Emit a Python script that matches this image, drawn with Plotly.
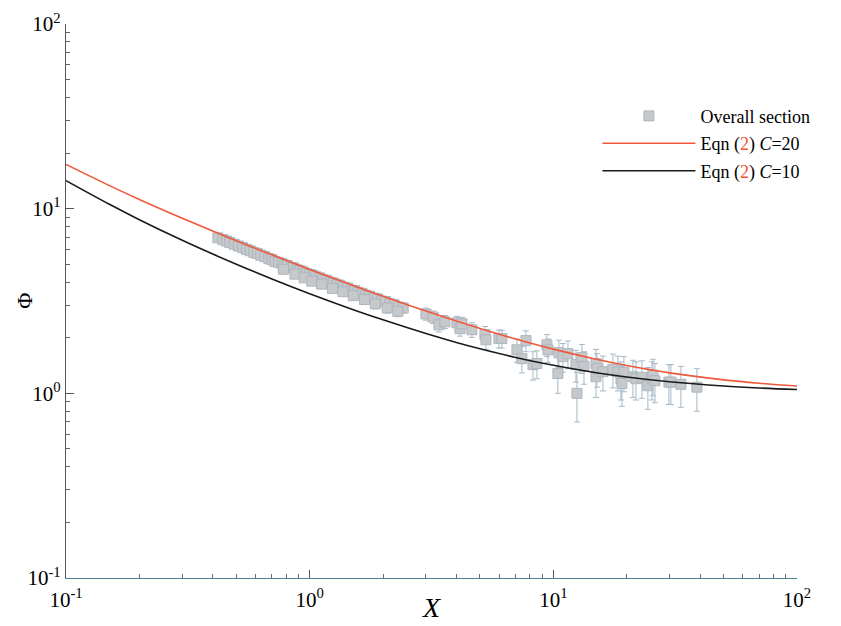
import plotly.graph_objects as go

# ---- measured data (Overall section) ----
x_data = [0.42, 0.44, 0.455, 0.47, 0.49, 0.51, 0.53, 0.55, 0.57, 0.59,
          0.61, 0.63, 0.655, 0.68, 0.70, 0.72, 0.745, 0.77, 0.79, 0.81,
          0.84, 0.86, 0.89, 0.91, 0.94, 0.97, 1.0, 1.03, 1.06, 1.10,
          1.13, 1.17, 1.21, 1.25, 1.29, 1.33, 1.38, 1.43, 1.48, 1.53,
          1.58, 1.64, 1.70, 1.76, 1.83, 1.90, 1.97, 2.05, 2.13, 2.22,
          2.32, 2.42,
          0.78, 0.87, 0.95, 1.02, 1.12, 1.24, 1.37, 1.51, 1.68, 1.86,
          2.08, 2.30,
          3.00, 3.21, 3.39, 3.59, 4.02, 4.14, 4.22, 4.63, 5.24, 5.29,
          5.98, 6.15, 7.09, 7.43, 7.72, 8.25, 8.56, 9.41, 9.51, 10.44,
          10.54, 10.95, 11.48, 12.38, 12.50, 13.10, 13.36, 14.96, 14.96, 15.10,
          15.98, 17.56, 18.41, 18.94, 19.12, 19.49, 21.22, 21.83, 23.10, 24.44,
          25.39, 25.63, 26.12, 29.81, 30.37, 33.39, 38.84]
phi_data = [6.95, 6.80, 6.68, 6.55, 6.42, 6.28, 6.16, 6.02, 5.92, 5.80,
            5.72, 5.60, 5.50, 5.36, 5.30, 5.18, 5.12, 5.04, 4.95, 4.92,
            4.80, 4.78, 4.66, 4.62, 4.55, 4.45, 4.40, 4.36, 4.28, 4.22,
            4.12, 4.10, 4.00, 3.96, 3.88, 3.85, 3.76, 3.72, 3.62, 3.60,
            3.52, 3.48, 3.40, 3.36, 3.28, 3.25, 3.16, 3.14, 3.05, 3.02,
            2.93, 2.90,
            4.70, 4.42, 4.22, 4.05, 3.90, 3.70, 3.55, 3.38, 3.22, 3.05,
            2.90, 2.78,
            2.69, 2.59, 2.35, 2.44, 2.41, 2.24, 2.38, 2.21, 2.08, 1.95,
            1.98, 1.98, 1.72, 1.54, 1.93, 1.43, 1.45, 1.83, 1.72, 1.28,
            1.66, 1.58, 1.64, 1.43, 1.00, 1.56, 1.40, 1.45, 1.23, 1.36,
            1.31, 1.35, 1.31, 1.20, 1.13, 1.30, 1.23, 1.20, 1.22, 1.10,
            1.20, 1.25, 1.17, 1.15, 1.15, 1.12, 1.08]
err_data = [0.12, 0.12, 0.12, 0.12, 0.12, 0.12, 0.12, 0.12, 0.12, 0.12,
            0.12, 0.12, 0.12, 0.12, 0.12, 0.12, 0.13, 0.13, 0.13, 0.13,
            0.13, 0.13, 0.13, 0.13, 0.14, 0.14, 0.14, 0.14, 0.14, 0.14,
            0.15, 0.15, 0.15, 0.15, 0.15, 0.15, 0.15, 0.15, 0.16, 0.16,
            0.16, 0.16, 0.16, 0.16, 0.17, 0.17, 0.17, 0.17, 0.17, 0.18,
            0.18, 0.18,
            0.15, 0.15, 0.15, 0.16, 0.16, 0.16, 0.17, 0.17, 0.17, 0.18,
            0.18, 0.18,
            0.20, 0.20, 0.20, 0.20, 0.20, 0.20, 0.20, 0.20, 0.22, 0.22,
            0.22, 0.22, 0.25, 0.25, 0.25, 0.25, 0.25, 0.25, 0.25, 0.28,
            0.28, 0.28, 0.28, 0.28, 0.30, 0.28, 0.28, 0.28, 0.28, 0.28,
            0.28, 0.28, 0.28, 0.28, 0.28, 0.28, 0.28, 0.28, 0.28, 0.28,
            0.28, 0.28, 0.28, 0.28, 0.28, 0.28, 0.28]

# ---- Eqn (2) curves ----
x_curve = [0.1, 0.15, 0.2, 0.3, 0.4, 0.5, 0.7, 1, 1.5, 2, 3, 4, 5, 7,
           10, 15, 20, 30, 50, 70, 100]
phi_c20 = [17.35, 13.37, 11.22, 8.876, 7.566, 6.708, 5.622, 4.690, 3.844,
           3.354, 2.789, 2.462, 2.245, 1.969, 1.735, 1.529, 1.415, 1.291,
           1.183, 1.134, 1.0955]
phi_c10 = [14.18, 10.59, 8.718, 6.741, 5.679, 5.0, 4.163, 3.464, 2.848,
           2.5, 2.108, 1.887, 1.744, 1.565, 1.418, 1.293, 1.226, 1.155,
           1.0956, 1.0692, 1.0489]

major_ticks = [0.1, 1, 10, 100]
major_ticktext = ["10<sup>-1</sup>", "10<sup>0</sup>", "10<sup>1</sup>", "10<sup>2</sup>"]
minor_ticks = [0.2, 0.3, 0.4, 0.5, 0.6, 0.7, 0.8, 0.9,
               2, 3, 4, 5, 6, 7, 8, 9,
               20, 30, 40, 50, 60, 70, 80, 90]

SERIF = "Liberation Serif, Times New Roman, serif"

fig = go.Figure()
fig.add_trace(go.Scatter(
    x=x_data, y=phi_data, mode="markers", name="Overall section",
    legendgroup="a",
    marker=dict(symbol="square", size=10, color="rgb(198,200,202)",
                line=dict(color="rgb(172,182,192)", width=1)),
    error_y=dict(type="data", array=err_data, color="rgb(165,185,200)",
                 thickness=1, width=3),
))
fig.add_trace(go.Scatter(
    x=x_curve, y=phi_c20, mode="lines", line_shape="spline",
    legendgroup="b",
    name="Eqn (<span style='color:#f0503a'>2</span>) <i>C</i>=20",
    line=dict(color="#f0583c", width=1.6),
))
fig.add_trace(go.Scatter(
    x=x_curve, y=phi_c10, mode="lines", line_shape="spline",
    legendgroup="c",
    name="Eqn (<span style='color:#f0503a'>2</span>) <i>C</i>=10",
    line=dict(color="#1a1a1a", width=1.6),
))

axis_common = dict(
    type="log", range=[-1, 2], showgrid=False, zeroline=False,
    showline=True, linewidth=1.2, automargin=False,
    ticks="inside", ticklen=8, tickcolor="#555",
    tickvals=major_ticks, ticktext=major_ticktext,
    tickfont=dict(family=SERIF, size=21), ticklabeloverflow="allow",
    minor=dict(ticks="inside", ticklen=4, tickcolor="#666", showgrid=False,
               tickvals=minor_ticks),
)

fig.update_layout(
    width=841, height=626,
    margin=dict(l=58, r=52, t=16, b=56),
    paper_bgcolor="white", plot_bgcolor="white",
    font=dict(family=SERIF, size=18, color="black"),
    legend=dict(x=0.727, y=0.867, xanchor="left", yanchor="top",
                bgcolor="rgba(0,0,0,0)", itemwidth=93,
                font=dict(family=SERIF, size=18), tracegroupgap=1),
    xaxis=dict(axis_common, linecolor="#4a8494", ticklabelstandoff=3),
    yaxis=dict(axis_common, linecolor="#555"),
    annotations=[
        dict(text="Φ", xref="paper", yref="paper", x=-0.0775, y=0.5,
             xanchor="left", yanchor="middle", textangle=-90, showarrow=False,
             font=dict(family=SERIF, size=22)),
        dict(text="<i>X</i>", xref="paper", yref="paper", x=0.5, y=-0.054,
             xanchor="center", yanchor="middle", showarrow=False,
             font=dict(family=SERIF, size=28)),
    ],
)

fig.write_html("out.html")
